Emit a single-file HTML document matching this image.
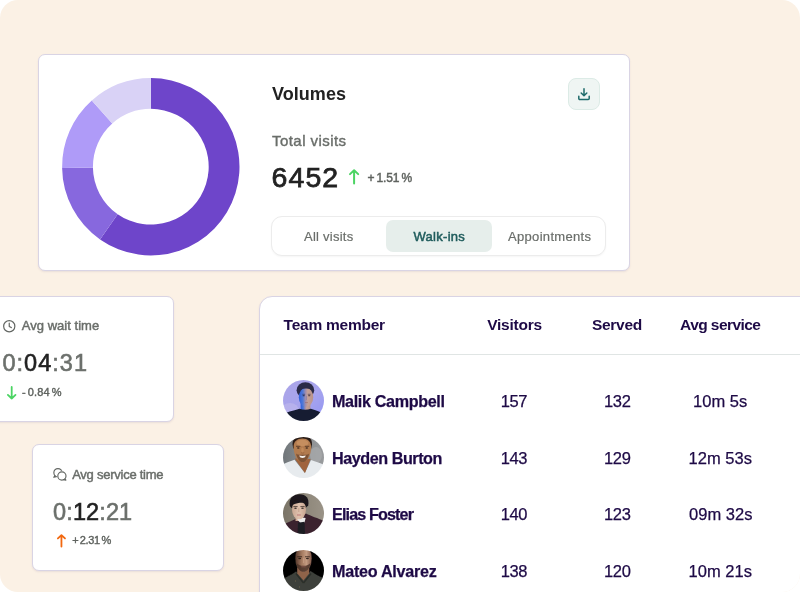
<!DOCTYPE html>
<html lang="en"><head><meta charset="utf-8"><title>Volumes dashboard</title>
<style>
*{box-sizing:border-box}
html,body{margin:0;padding:0;background:#fff}
body{width:800px;height:592px;overflow:hidden;position:relative;font-family:"Liberation Sans", sans-serif}
#bg{position:absolute;left:0;top:0;width:800px;height:592px;background:#fbf1e5;border-radius:18px;overflow:hidden;will-change:transform}
section,.grp{display:contents}
.card{position:absolute;background:#fff;border:1px solid #d9d4e4;border-radius:7px;box-shadow:0 1px 2px rgba(80,60,120,.10)}
.t{position:absolute;white-space:nowrap;line-height:1;margin:0;padding:0;border:0;background:none;font-family:inherit;font-style:normal;text-align:left}
.abs{position:absolute}
svg{position:absolute;overflow:visible}
</style></head>
<body>
<main id="bg">
<section aria-label="Volumes">
<div class="card" style="left:38px;top:54px;width:592px;height:217px"></div>
<svg role="img" aria-label="Visits donut chart" width="800" height="592" style="left:0;top:0" viewBox="0 0 800 592"><path d="M150.80,78.00A88.7,88.7 0 1 1 100.05,239.45L117.67,214.19A57.9,57.9 0 1 0 150.80,108.80Z" fill="#6e45ca"/><path d="M100.05,239.45A88.7,88.7 0 0 1 62.11,168.09L92.91,167.61A57.9,57.9 0 0 0 117.67,214.19Z" fill="#8768de"/><path d="M62.11,168.09A88.7,88.7 0 0 1 91.79,100.47L112.28,123.47A57.9,57.9 0 0 0 92.91,167.61Z" fill="#af9bf8"/><path d="M91.79,100.47A88.7,88.7 0 0 1 150.80,78.00L150.80,108.80A57.9,57.9 0 0 0 112.28,123.47Z" fill="#d9d2f6"/></svg>
<h2 class="t" style="left:272.0px;top:85px;font-size:18px;font-weight:700;color:#222222;letter-spacing:0.042px;">Volumes</h2>
<button class="abs" type="button" aria-label="Download" style="left:568px;top:78px;width:32px;height:32px;padding:0;background:#eff5f3;border:1px solid #dcebe6;border-radius:8px"><svg style="left:9px;top:8.5px" width="12" height="12.5" viewBox="0 0 12 12.5" fill="none" stroke="#1f6b6b" stroke-width="1.5" stroke-linecap="round" stroke-linejoin="round"><path d="M6 .8V7.6M3.2 5L6 7.8 8.8 5M.8 8.200V10.600a1 1 0 0 0 1 1H10.200a1 1 0 0 0 1-1V8.200"/></svg></button>
<p class="t" style="left:272.0px;top:133px;font-size:15px;font-weight:400;color:#6a6e6a;letter-spacing:0.445px;-webkit-text-stroke:0.4px #6a6e6a">Total visits</p>
<p class="t" style="left:271.6px;top:163px;font-size:28.5px;font-weight:400;color:#222222;letter-spacing:1.067px;-webkit-text-stroke:0.75px #222222">6452</p>
<svg style="left:349.2px;top:168.8px" width="10.2" height="15.5" viewBox="0 0 10.2 15.5" fill="none" stroke="#4bd463" stroke-width="2.0" stroke-linecap="round" stroke-linejoin="round"><path d="M5.10 14.50V1.20M1.00 5.10L5.10 1.20L9.20 5.10"/></svg>
<span class="t" style="left:367.5px;top:172px;font-size:12px;font-weight:400;color:#5f635f;letter-spacing:-0.143px;word-spacing:-1px;-webkit-text-stroke:0.45px #5f635f">+ 1.51 %</span>
<div class="grp" role="tablist">
<div class="abs" style="left:271px;top:216px;width:335px;height:40px;border:1px solid #ececec;border-radius:11px;background:#fff;box-shadow:0 1px 2px rgba(0,0,0,.04)"></div>
<div class="abs" style="left:386px;top:220px;width:106px;height:31.5px;border-radius:7px;background:#e6eeeb"></div>
<button class="t" type="button" role="tab" style="left:304.0px;top:230px;font-size:13px;font-weight:400;color:#6a6e6a;letter-spacing:0.25px;-webkit-text-stroke:0.2px #6a6e6a">All visits</button>
<button class="t" type="button" role="tab" aria-selected="true" style="left:413.5px;top:230px;font-size:13px;font-weight:400;color:#1f5c5c;letter-spacing:0.286px;-webkit-text-stroke:0.5px #1f5c5c">Walk-ins</button>
<button class="t" type="button" role="tab" style="left:508.0px;top:230px;font-size:13px;font-weight:400;color:#6a6e6a;letter-spacing:0.318px;-webkit-text-stroke:0.2px #6a6e6a">Appointments</button>
</div>
</section>
<section aria-label="Avg wait time">
<div class="card" style="left:-18px;top:296px;width:192px;height:126px"></div>
<svg style="left:3.4px;top:319.8px" width="12.5" height="12.5" viewBox="0 0 12.5 12.5" fill="none" stroke="#626662" stroke-width="1.2" stroke-linecap="round" stroke-linejoin="round"><circle cx="6.25" cy="6.25" r="5.6"/><path d="M6.25 3.200V6.400L8.300 7.600"/></svg>
<h3 class="t" style="left:21.8px;top:319px;font-size:13px;font-weight:400;color:#6a6e6a;letter-spacing:0.025px;-webkit-text-stroke:0.45px #6a6e6a">Avg wait time</h3>
<p class="t" style="left:2.4px;top:352px;font-size:23.5px;font-weight:400;color:#222222;letter-spacing:1.033px;-webkit-text-stroke:0.6px currentColor"><span style="color:#6c706c">0:</span><span style="color:#222">04</span><span style="color:#6c706c">:31</span></p>
<svg style="left:6.5px;top:385.6px" width="9.4" height="13.6" viewBox="0 0 9.4 13.6" fill="none" stroke="#4bd463" stroke-width="1.8" stroke-linecap="round" stroke-linejoin="round"><path d="M4.70 0.90V12.50M0.90 8.90L4.70 12.50L8.50 8.90"/></svg>
<span class="t" style="left:22.0px;top:387px;font-size:11px;font-weight:400;color:#5f635f;letter-spacing:0.143px;word-spacing:-1.2px;-webkit-text-stroke:0.4px #5f635f">- 0.84 %</span>
</section>
<section aria-label="Avg service time">
<div class="card" style="left:32px;top:444px;width:192px;height:127px"></div>
<svg style="left:53.3px;top:468px" width="14" height="13" viewBox="0 0 14 13" fill="none" stroke="#626662" stroke-width="1.15" stroke-linecap="round" stroke-linejoin="round"><circle cx="4.95" cy="4.65" r="4.1"/><path d="M1.900 7.500L.8 9.300l2.500-.7"/><circle cx="8.9" cy="7.95" r="4.1" fill="#fff" stroke="#fff" stroke-width="2.1"/><circle cx="8.9" cy="7.95" r="4.1" fill="#fff"/><path d="M11.950 10.800l.95 1.300-2.500-.5"/></svg>
<h3 class="t" style="left:72.2px;top:468px;font-size:13px;font-weight:400;color:#6a6e6a;letter-spacing:-0.253px;-webkit-text-stroke:0.45px #6a6e6a">Avg service time</h3>
<p class="t" style="left:53.1px;top:501px;font-size:23.5px;font-weight:400;color:#222222;letter-spacing:0.1px;-webkit-text-stroke:0.6px currentColor"><span style="color:#6c706c">0:</span><span style="color:#222">12</span><span style="color:#6c706c">:21</span></p>
<svg style="left:57.3px;top:533.8px" width="8.9" height="13.4" viewBox="0 0 8.9 13.4" fill="none" stroke="#f2680f" stroke-width="1.8" stroke-linecap="round" stroke-linejoin="round"><path d="M4.45 12.50V1.10M0.90 4.45L4.45 1.10L8.00 4.45"/></svg>
<span class="t" style="left:72.2px;top:535px;font-size:11px;font-weight:400;color:#5f635f;letter-spacing:-0.329px;word-spacing:-1.2px;-webkit-text-stroke:0.4px #5f635f">+ 2.31 %</span>
</section>
<section aria-label="Team members" role="table">
<div class="card" style="left:259px;top:296px;width:600px;height:400px;border-radius:13px"></div>
<div class="grp" role="row">
<div class="t" role="columnheader" style="left:283.6px;top:317px;font-size:15.5px;font-weight:700;color:#1e0a46;letter-spacing:-0.24px;">Team member</div>
<div class="t" role="columnheader" style="left:487.2px;top:317px;font-size:15.5px;font-weight:700;color:#1e0a46;letter-spacing:-0.229px;">Visitors</div>
<div class="t" role="columnheader" style="left:592.0px;top:317px;font-size:15.5px;font-weight:700;color:#1e0a46;letter-spacing:-0.3px;">Served</div>
<div class="t" role="columnheader" style="left:680.1px;top:317px;font-size:15.5px;font-weight:700;color:#1e0a46;letter-spacing:-0.56px;">Avg service</div>
</div>
<div class="abs" style="left:260px;top:354px;width:540px;height:1px;background:#e0e5e4"></div>
<div class="grp" role="row">
<svg style="left:283px;top:380.10px" width="41" height="41" viewBox="0 0 41 41"><defs><clipPath id="c0"><circle cx="20.5" cy="20.5" r="20.5"/></clipPath><filter id="f0" x="-10%" y="-10%" width="120%" height="120%"><feGaussianBlur stdDeviation="0.75"/></filter></defs><g clip-path="url(#c0)"><g filter="url(#f0)">
<defs><linearGradient id="g0" x1="0" y1="0" x2="1" y2="1"><stop offset="0" stop-color="#aca5e6"/><stop offset="0.55" stop-color="#a7a4ee"/><stop offset="1" stop-color="#8d92f3"/></linearGradient>
<linearGradient id="g0f" x1="0" y1="0" x2="1" y2="0"><stop offset="0" stop-color="#2f5fd8"/><stop offset="0.28" stop-color="#4f79d8"/><stop offset="0.46" stop-color="#9c8cae"/><stop offset="0.62" stop-color="#c4a096"/><stop offset="1" stop-color="#b8938a"/></linearGradient></defs>
<rect x="-3" y="-3" width="47" height="47" fill="url(#g0)"/>
<ellipse cx="7" cy="31" rx="9" ry="8" fill="#bdb7ec" opacity=".7"/>
<ellipse cx="22.400" cy="10.200" rx="8.800" ry="8" fill="#2c2b47"/>
<path d="M17.600 21h9.800v9.500h-9.800z" fill="url(#g0f)"/>
<ellipse cx="23" cy="17.200" rx="7.200" ry="9.600" fill="url(#g0f)"/>
<path d="M14.500 12c1.500-5 4.500-7.300 8.500-7.300 4 0 7 2.300 8 7.300-2.500-2.600-4.500-3.400-8-3.400s-6 .8-8.500 3.400z" fill="#2c2b47"/>
<path d="M19.300 14.300h2.800M24.800 14.300h2.800" stroke="#2f2a48" stroke-width=".8" opacity=".7"/><ellipse cx="20.700" cy="15.700" rx="1.200" ry=".65" fill="#1f2240" opacity=".75"/><ellipse cx="26.200" cy="15.700" rx="1.200" ry=".65" fill="#3a2a30" opacity=".75"/><path d="M23.600 16v4" stroke="#6a6aa8" stroke-width=".8" opacity=".5"/>
<path d="M22 22.600h3" stroke="#9a6a6a" stroke-width=".9" opacity=".7"/>
<path d="M-2 44V35.500C3 32.200 10 30.800 16.500 28.800c3.500 1.400 8 1.400 11.200 0C33 30.500 39 32 43 35.500V44z" fill="#151b33"/>
</g></g></svg>
<div class="t" role="cell" style="left:331.6px;top:393px;font-size:17px;font-weight:700;color:#1e0a46;letter-spacing:-0.372px;-webkit-text-stroke:0.25px #1e0a46;transform-origin:0 0;transform:scaleX(0.95)">Malik Campbell</div>
<div class="t" role="cell" style="left:500.8px;top:393px;font-size:16.5px;font-weight:400;color:#1e0a46;letter-spacing:-0.4px;-webkit-text-stroke:0.25px #1e0a46">157</div>
<div class="t" role="cell" style="left:604.1px;top:393px;font-size:16.5px;font-weight:400;color:#1e0a46;letter-spacing:-0.4px;-webkit-text-stroke:0.25px #1e0a46">132</div>
<div class="t" role="cell" style="left:693.1px;top:393px;font-size:16.5px;font-weight:400;color:#1e0a46;letter-spacing:0px;-webkit-text-stroke:0.25px #1e0a46">10m 5s</div>
</div>
<div class="grp" role="row">
<svg style="left:283px;top:436.70px" width="41" height="41" viewBox="0 0 41 41"><defs><clipPath id="c1"><circle cx="20.5" cy="20.5" r="20.5"/></clipPath><filter id="f1" x="-10%" y="-10%" width="120%" height="120%"><feGaussianBlur stdDeviation="0.75"/></filter></defs><g clip-path="url(#c1)"><g filter="url(#f1)">
<defs><linearGradient id="g1" x1="0" y1="0" x2="1" y2="0"><stop offset="0" stop-color="#6c7276"/><stop offset="0.5" stop-color="#8a8e91"/><stop offset="1" stop-color="#9b9d9f"/></linearGradient></defs>
<rect x="-3" y="-3" width="47" height="47" fill="url(#g1)"/>
<ellipse cx="33" cy="18" rx="6" ry="8" fill="#a9abad" opacity=".7"/>
<path d="M-2 44V28.500C2 25.800 7 24.600 11.500 22.800L21.800 36 28 23c4.500 1.500 10 3 15 6v15z" fill="#e7ebee"/>
<path d="M11.600 21.500L27.600 22 22 36z" fill="#a0643c"/>
<path d="M9.500 7C9.500 1 14-1.500 19.500-1.500 25-1.500 29.200 1 29 7.500l-.8 4H10.200z" fill="#2c1e18"/>
<path d="M10.600 10c0-5.500 3.600-8.400 8.800-8.400 5.200 0 8.800 3 8.800 8.600 0 6.800-3.400 14.800-8.800 14.800-5.600 0-8.800-8-8.800-15z" fill="#b27b4f"/>
<ellipse cx="19.500" cy="6" rx="6" ry="3.200" fill="#c58e5e"/>
<path d="M13 16.500c1.500 6.500 4 8.600 6.600 8.600 2.700 0 5.200-2.400 6.600-8.600-1.600 1.600-4 1.200-6.600 1.200S14.600 18 13 16.500z" fill="#6b452e" opacity=".75"/>
<path d="M16.200 18.600c2 .5 4.600.5 6.600 0-.6 1.800-1.800 2.500-3.300 2.500s-2.700-.7-3.300-2.500z" fill="#f4f0ec"/>
<path d="M13 9.300h4.400M21.800 9.300h4.400" stroke="#3a2418" stroke-width=".9" opacity=".75"/><ellipse cx="15.300" cy="11" rx="1.300" ry=".75" fill="#2a1a12" opacity=".8"/><ellipse cx="23.800" cy="11" rx="1.300" ry=".75" fill="#2a1a12" opacity=".8"/><path d="M18 15.600c1 .6 2.200.6 3.200 0" stroke="#8a5634" stroke-width=".8" fill="none" opacity=".8"/><ellipse cx="19.500" cy="13" rx="1.300" ry="2.600" fill="#c9925f" opacity=".7"/>
</g></g></svg>
<div class="t" role="cell" style="left:332.0px;top:450px;font-size:17px;font-weight:700;color:#1e0a46;letter-spacing:-0.474px;-webkit-text-stroke:0.25px #1e0a46;transform-origin:0 0;transform:scaleX(0.95)">Hayden Burton</div>
<div class="t" role="cell" style="left:500.8px;top:450px;font-size:16.5px;font-weight:400;color:#1e0a46;letter-spacing:-0.4px;-webkit-text-stroke:0.25px #1e0a46">143</div>
<div class="t" role="cell" style="left:604.1px;top:450px;font-size:16.5px;font-weight:400;color:#1e0a46;letter-spacing:-0.4px;-webkit-text-stroke:0.25px #1e0a46">129</div>
<div class="t" role="cell" style="left:688.6px;top:450px;font-size:16.5px;font-weight:400;color:#1e0a46;letter-spacing:0px;-webkit-text-stroke:0.25px #1e0a46">12m 53s</div>
</div>
<div class="grp" role="row">
<svg style="left:283px;top:493.40px" width="41" height="41" viewBox="0 0 41 41"><defs><clipPath id="c2"><circle cx="20.5" cy="20.5" r="20.5"/></clipPath><filter id="f2" x="-10%" y="-10%" width="120%" height="120%"><feGaussianBlur stdDeviation="0.75"/></filter></defs><g clip-path="url(#c2)"><g filter="url(#f2)">
<defs><linearGradient id="g2" x1="0" y1="0" x2="1" y2="0"><stop offset="0" stop-color="#777164"/><stop offset="0.5" stop-color="#8d8679"/><stop offset="1" stop-color="#9c9589"/></linearGradient>
<linearGradient id="g2f" x1="0" y1="0" x2="1" y2="0"><stop offset="0" stop-color="#c9a792"/><stop offset="0.5" stop-color="#e0c2ae"/><stop offset="1" stop-color="#c7a48f"/></linearGradient></defs>
<rect x="-3" y="-3" width="47" height="47" fill="url(#g2)"/>
<path d="M-2 44V32.500C3 30 9 28 13.500 25.500L23 20.500c5 2.500 11 4.500 20 8V44z" fill="#3a222f"/>
<path d="M12.500 21h7.500v7h-7.500z" fill="#cda994"/>
<path d="M13.600 25.600L18 24.300l4.600.6-1 4.600-3.800 1z" fill="#eceaea"/>
<path d="M15 29.800l6.500-1 .5 15.500h-7.500z" fill="#1a1a23"/>
<path d="M6.800 13C5.400 5.500 10 1.200 16.500 1.200c6.600 0 10 4 8.700 11.300L22.500 15H8.500z" fill="#1b181a"/>
<ellipse cx="16" cy="16.600" rx="7" ry="9.600" fill="url(#g2f)"/>
<path d="M8.300 13.200C9 8.200 12.300 6.600 16 6.600s6.400 1 7.700 4.800c-3.500-1.700-5.200-1.900-8.200-1.300-2.800.6-5.200 1.100-7.200 3.100z" fill="#1b181a"/>
<path d="M10.400 13.600h4.200M17.400 13.600h4.200" stroke="#2b1f1c" stroke-width="1" opacity=".7"/><ellipse cx="12.500" cy="15.200" rx="1.300" ry=".7" fill="#1d1513" opacity=".8"/><ellipse cx="19.500" cy="15.200" rx="1.300" ry=".7" fill="#1d1513" opacity=".8"/>
<path d="M15.800 15v4" stroke="#b9937e" stroke-width=".9" opacity=".7"/>
<path d="M14 22h3.800" stroke="#b4676b" stroke-width="1" opacity=".8"/>
</g></g></svg>
<div class="t" role="cell" style="left:332.2px;top:506px;font-size:17px;font-weight:700;color:#1e0a46;letter-spacing:-0.919px;-webkit-text-stroke:0.25px #1e0a46;transform-origin:0 0;transform:scaleX(0.95)">Elias Foster</div>
<div class="t" role="cell" style="left:500.8px;top:506px;font-size:16.5px;font-weight:400;color:#1e0a46;letter-spacing:-0.4px;-webkit-text-stroke:0.25px #1e0a46">140</div>
<div class="t" role="cell" style="left:604.1px;top:506px;font-size:16.5px;font-weight:400;color:#1e0a46;letter-spacing:-0.4px;-webkit-text-stroke:0.25px #1e0a46">123</div>
<div class="t" role="cell" style="left:689.1px;top:506px;font-size:16.5px;font-weight:400;color:#1e0a46;letter-spacing:0px;-webkit-text-stroke:0.25px #1e0a46">09m 32s</div>
</div>
<div class="grp" role="row">
<svg style="left:283px;top:550.00px" width="41" height="41" viewBox="0 0 41 41"><defs><clipPath id="c3"><circle cx="20.5" cy="20.5" r="20.5"/></clipPath><filter id="f3" x="-10%" y="-10%" width="120%" height="120%"><feGaussianBlur stdDeviation="0.75"/></filter></defs><g clip-path="url(#c3)"><g filter="url(#f3)">
<defs><linearGradient id="g3f" x1="0" y1="0" x2="1" y2="0"><stop offset="0" stop-color="#54392c"/><stop offset="0.4" stop-color="#a47a60"/><stop offset="0.68" stop-color="#c39b81"/><stop offset="1" stop-color="#80594a"/></linearGradient></defs>
<rect x="-3" y="-3" width="47" height="47" fill="#060606"/>
<path d="M-2 44V30C2 27.500 8 25.500 13 21.500l7.500 8.500L27.500 21c5 3.500 10 6 15.500 8.500V44z" fill="#3e413b"/>
<path d="M14.200 17.500h12v6L20.500 30.500l-6.300-7z" fill="#8f634a"/>
<ellipse cx="20.500" cy="8.500" rx="8.200" ry="13.200" fill="url(#g3f)"/>
<path d="M11.800-3h17.400l.2 4c-2.500-1.300-5.200-1.800-8.700-1.800S14.300-.3 11.800 1z" fill="#2a1c15"/>
<path d="M13.300 12.500c.8 6 3.800 9.300 7.200 9.300s6.400-3.300 7.200-9.300c-1.500 2.600-4 3.300-7.200 3.300s-5.700-.7-7.200-3.300z" fill="#4a3328" opacity=".85"/>
<path d="M18.300 16.800h4.400" stroke="#8a5a50" stroke-width="1" opacity=".8"/>
<path d="M14.300 6.800h4.800M22 6.800h4.800" stroke="#2a1a14" stroke-width="1.100" opacity=".75"/><ellipse cx="16.700" cy="8.500" rx="1.500" ry=".8" fill="#1a100c" opacity=".8"/><ellipse cx="24.400" cy="8.500" rx="1.500" ry=".8" fill="#1a100c" opacity=".8"/>
<path d="M20.600 8v5" stroke="#d0a88e" stroke-width="1" opacity=".6"/>
<path d="M13 23.500l7.500 9.500M28 23.500l-7.500 9.500" stroke="#2b2e29" stroke-width="1.500" fill="none"/>
<path d="M12 31l1 0M16 37l1 0" stroke="#7a6a4a" stroke-width="1" opacity=".7"/>
</g></g></svg>
<div class="t" role="cell" style="left:331.6px;top:563px;font-size:17px;font-weight:700;color:#1e0a46;letter-spacing:-0.281px;-webkit-text-stroke:0.25px #1e0a46;transform-origin:0 0;transform:scaleX(0.95)">Mateo Alvarez</div>
<div class="t" role="cell" style="left:500.8px;top:563px;font-size:16.5px;font-weight:400;color:#1e0a46;letter-spacing:-0.4px;-webkit-text-stroke:0.25px #1e0a46">138</div>
<div class="t" role="cell" style="left:604.1px;top:563px;font-size:16.5px;font-weight:400;color:#1e0a46;letter-spacing:-0.4px;-webkit-text-stroke:0.25px #1e0a46">120</div>
<div class="t" role="cell" style="left:688.6px;top:563px;font-size:16.5px;font-weight:400;color:#1e0a46;letter-spacing:0px;-webkit-text-stroke:0.25px #1e0a46">10m 21s</div>
</div>
</section>
</main>
</body></html>
